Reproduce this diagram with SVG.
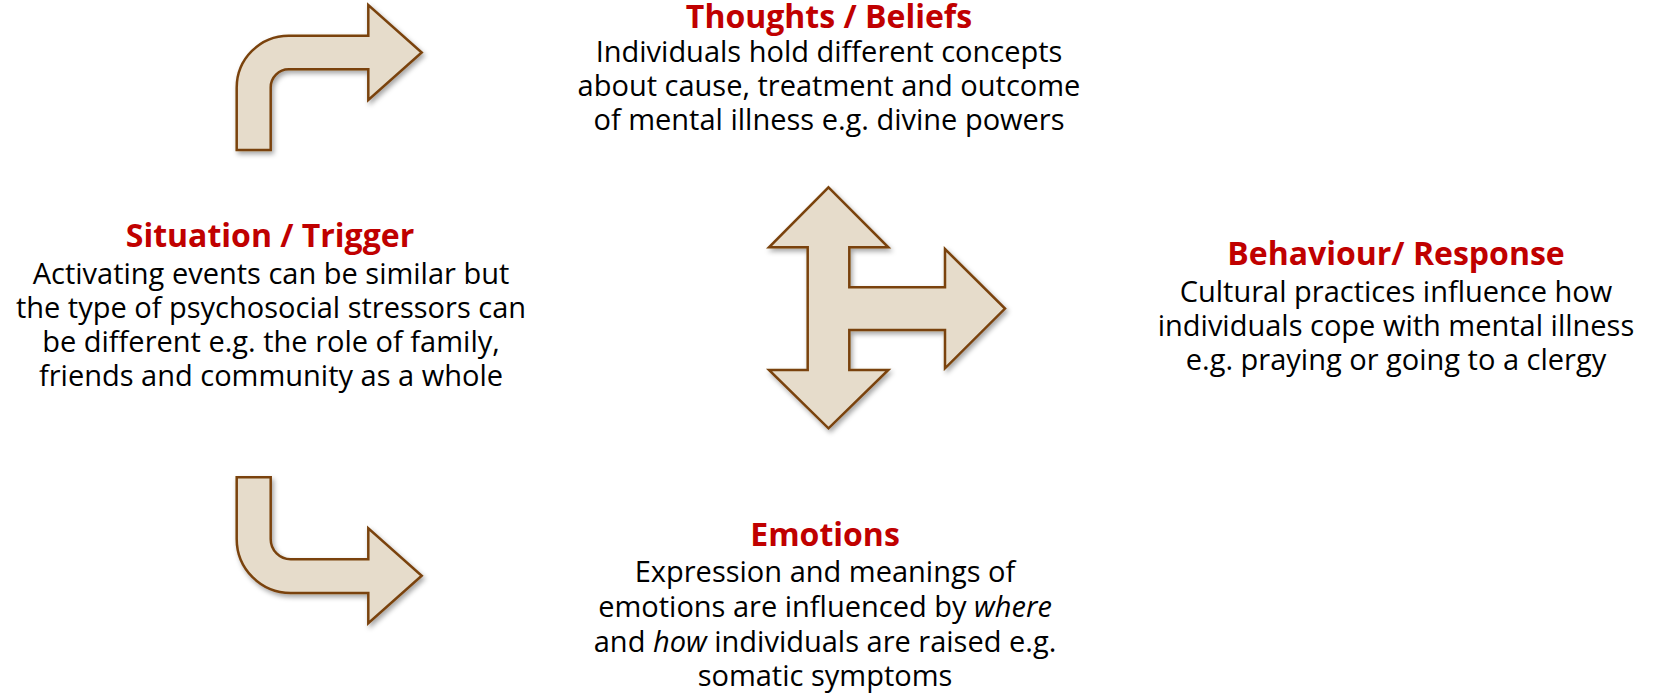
<svg xmlns="http://www.w3.org/2000/svg" width="1655" height="695" viewBox="0 0 1655 695">
<style>
.arrow{fill:#e6dccb;stroke:#7a430c;stroke-width:2.5;stroke-linejoin:miter;filter:url(#sh)}
.title{font-family:"Open Sans","Liberation Sans",sans-serif;font-weight:bold;font-size:32px;fill:#c00000;text-anchor:middle}
.body{font-family:"Open Sans","Liberation Sans",sans-serif;font-size:29px;fill:#000;text-anchor:middle}
</style>
<defs>
<filter id="sh" x="-20%" y="-20%" width="140%" height="140%">
<feDropShadow dx="2" dy="3" stdDeviation="2.5" flood-color="#000" flood-opacity="0.35"/>
</filter>
</defs>
<rect width="1655" height="695" fill="#fff"/>
<g id="connectors">
<path id="arrow-top" class="arrow" d="M236.7 150 L236.7 87.7 A52 52 0 0 1 288.7 35.7 L368.3 35.7 L368.3 5 L421.7 52.5 L368.3 100 L368.3 69.3 L288.7 69.3 A18 18 0 0 0 270.7 87.3 L270.7 150 Z"/>
<path id="arrow-bottom" class="arrow" d="M236.7 477.3 L270.7 477.3 L270.7 539.3 A20 20 0 0 0 290.7 559.3 L368.3 559.3 L368.3 528.3 L421.7 575.8 L368.3 623.3 L368.3 593 L290.7 593 A54 54 0 0 1 236.7 539 Z"/>
<path id="arrow-center" class="arrow" d="M828.5 187.3 L888.3 247.3 L849.3 247.3 L849.3 287.3 L945 287.3 L945 249 L1005 308.6 L945 368.3 L945 330 L849.3 330 L849.3 370 L888.3 370 L828.5 428.3 L769 370 L807.7 370 L807.7 247.3 L769 247.3 Z"/>
</g>
<g id="situation">
<text class="title" x="270" y="247">Situation / Trigger</text>
<text class="body" x="271" y="284">Activating events can be similar but</text>
<text class="body" x="271" y="318">the type of psychosocial stressors can</text>
<text class="body" x="271" y="352">be different e.g. the role of family,</text>
<text class="body" x="271" y="386">friends and community as a whole</text>
</g>
<g id="thoughts">
<text class="title" x="829" y="27.5">Thoughts / Beliefs</text>
<text class="body" x="829" y="62">Individuals hold different concepts</text>
<text class="body" x="829" y="96">about cause, treatment and outcome</text>
<text class="body" x="829" y="130">of mental illness e.g. divine powers</text>
</g>
<g id="behaviour">
<text class="title" x="1396" y="265">Behaviour/ Response</text>
<text class="body" x="1396" y="301.7">Cultural practices influence how</text>
<text class="body" x="1396" y="336">individuals cope with mental illness</text>
<text class="body" x="1396" y="370">e.g. praying or going to a clergy</text>
</g>
<g id="emotions">
<text class="title" x="825" y="546">Emotions</text>
<text class="body" x="825" y="581.7">Expression and meanings of</text>
<text class="body" x="825" y="616.7">emotions are influenced by <tspan font-style="italic">where</tspan></text>
<text class="body" x="825" y="651.7">and <tspan font-style="italic">how</tspan> individuals are raised e.g.</text>
<text class="body" x="825" y="686">somatic symptoms</text>
</g>
</svg>
